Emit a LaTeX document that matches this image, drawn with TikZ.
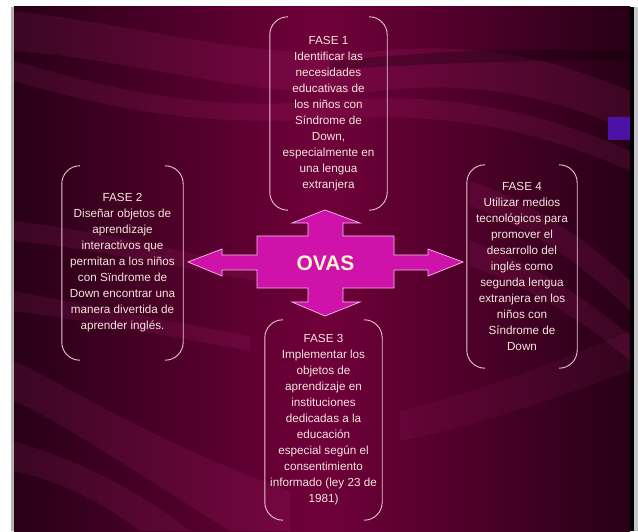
\documentclass[tikz,border=0pt]{standalone}
\usepackage{fontspec}
\setmainfont{Liberation Sans}
\definecolor{bgmid}{RGB}{112,0,58}
\definecolor{bgdark}{RGB}{40,0,22}
\definecolor{wavec}{RGB}{220,60,150}
\definecolor{txt}{RGB}{244,228,220}
\definecolor{brkc}{RGB}{236,196,214}
\definecolor{mag}{RGB}{206,18,170}
\definecolor{magline}{RGB}{245,190,230}
\definecolor{ovastxt}{RGB}{255,242,205}
\definecolor{bluesq}{RGB}{80,20,190}
\tikzset{
  fase/.style={align=center, inner sep=0pt, text=txt,
    font=\fontsize{11.7}{16}\selectfont},
  brk/.style={draw=brkc, line width=0.9pt},
  wave/.style={fill=wavec, opacity=0.11, draw=none},
  darkwave/.style={fill=black, opacity=0.25, draw=none},
}
\newcommand{\brackets}[1]{%
  \draw[brk] ([xshift=18pt]#1.north west) arc[start angle=90,end angle=180,radius=18pt]
     -- ([yshift=18pt]#1.south west) arc[start angle=180,end angle=270,radius=18pt];
  \draw[brk] ([xshift=-18pt]#1.north east) arc[start angle=90,end angle=0,radius=18pt]
     -- ([yshift=18pt]#1.south east) arc[start angle=0,end angle=-90,radius=18pt];
}
\begin{document}
\begin{tikzpicture}[x=1pt,y=1pt]
\useasboundingbox (0,0) rectangle (638,531);
\fill[white] (0,0) rectangle (638,531);
% frame strips
\fill[gray!60] (11,0) rectangle (14,524);
\fill[gray!45] (634,0) rectangle (638,524);
\fill[black] (630,0) rectangle (634,524);
% background panel
\shade[left color=bgdark, right color=bgdark, middle color=bgmid] (14,0) rectangle (630,524);
\begin{scope}
\clip (14,0) rectangle (630,524);
% top waves
\path[wave] (14,520) .. controls (150,505) and (250,470) .. (380,480)
  .. controls (480,490) and (560,470) .. (630,440) -- (630,400)
  .. controls (540,440) and (460,450) .. (380,440)
  .. controls (250,430) and (150,470) .. (14,480) -- cycle;
\path[wave] (14,470) .. controls (120,440) and (200,420) .. (330,430)
  .. controls (450,440) and (540,420) .. (630,380) -- (630,360)
  .. controls (540,400) and (450,420) .. (330,412)
  .. controls (200,405) and (120,420) .. (14,450) -- cycle;
\path[darkwave] (330,470) .. controls (420,478) and (520,485) .. (630,480)
  -- (630,470) .. controls (520,472) and (420,466) .. (330,462) -- cycle;
% left middle bands
\path[wave] (14,310) .. controls (100,300) and (180,280) .. (260,262)
  -- (260,250) .. controls (180,262) and (100,282) .. (14,290) -- cycle;
\path[wave] (14,240) .. controls (90,225) and (170,210) .. (250,195)
  -- (250,180) .. controls (170,195) and (90,210) .. (14,220) -- cycle;
% bottom left
\path[wave] (14,170) .. controls (60,150) and (150,90) .. (290,40)
  -- (290,0) -- (230,0) .. controls (150,50) and (60,110) .. (14,130) -- cycle;
\path[wave] (14,90) .. controls (80,70) and (140,40) .. (190,0) -- (140,0)
  .. controls (100,30) and (60,50) .. (14,60) -- cycle;
% right bands
\path[wave] (470,350) .. controls (530,330) and (590,290) .. (630,250)
  -- (630,220) .. controls (590,260) and (530,305) .. (470,325) -- cycle;
\path[wave] (470,290) .. controls (530,270) and (590,230) .. (630,195)
  -- (630,170) .. controls (590,205) and (530,245) .. (470,265) -- cycle;
\path[wave, opacity=0.07] (400,120) .. controls (480,140) and (560,170) .. (630,200)
  -- (630,160) .. controls (560,135) and (480,105) .. (400,90) -- cycle;
\end{scope}
% blue square
\fill[bluesq, opacity=0.85] (608,391) rectangle (630,414);
% cross arrow
\draw[fill=mag, draw=magline, line width=0.7pt]
  (325,321) -- (360,308) -- (343,308) -- (343,295) -- (394,295) -- (394,276)
  -- (428,276) -- (428,282) -- (463,269) -- (428,255) -- (428,261) -- (394,261)
  -- (394,243) -- (343,243) -- (343,229) -- (360,229) -- (325,215) -- (292,229)
  -- (308,229) -- (308,243) -- (257,243) -- (257,261) -- (222,261) -- (222,255)
  -- (188,269) -- (222,282) -- (222,276) -- (257,276) -- (257,295) -- (308,295)
  -- (308,308) -- (292,308) -- cycle;
\node[text=ovastxt, font=\fontsize{21}{24}\selectfont\bfseries] (ovas) at (325.5,268) {OVAS};
% phases
\node[fase, minimum width=117pt, minimum height=193pt] (f1) at (328.5,417.5)
 {FASE 1\\Identificar las\\necesidades\\educativas de\\los niños con\\Síndrome de\\Down,\\especialmente en\\una lengua\\extranjera};
\node[fase, minimum width=121pt, minimum height=194pt] (f2) at (122.5,268)
 {FASE 2\\Diseñar objetos de\\aprendizaje\\interactivos que\\permitan a los niños\\con Sïndrome de\\Down encontrar una\\manera divertida de\\aprender inglés.};
\node[fase, minimum width=110pt, minimum height=203pt] (f4) at (522,264.5)
 {FASE 4\\Utilizar medios\\tecnológicos para\\promover el\\desarrollo del\\inglés como\\segunda lengua\\extranjera en los\\niños con\\Síndrome de\\Down};
\node[fase, minimum width=117pt, minimum height=200pt] (f3) at (323.5,111)
 {FASE 3\\Implementar los\\objetos de\\aprendizaje en\\instituciones\\dedicadas a la\\educación\\especial según el\\consentimiento\\informado (ley 23 de\\1981)};
\brackets{f1}
\brackets{f2}
\brackets{f4}
\brackets{f3}
\end{tikzpicture}
\end{document}
